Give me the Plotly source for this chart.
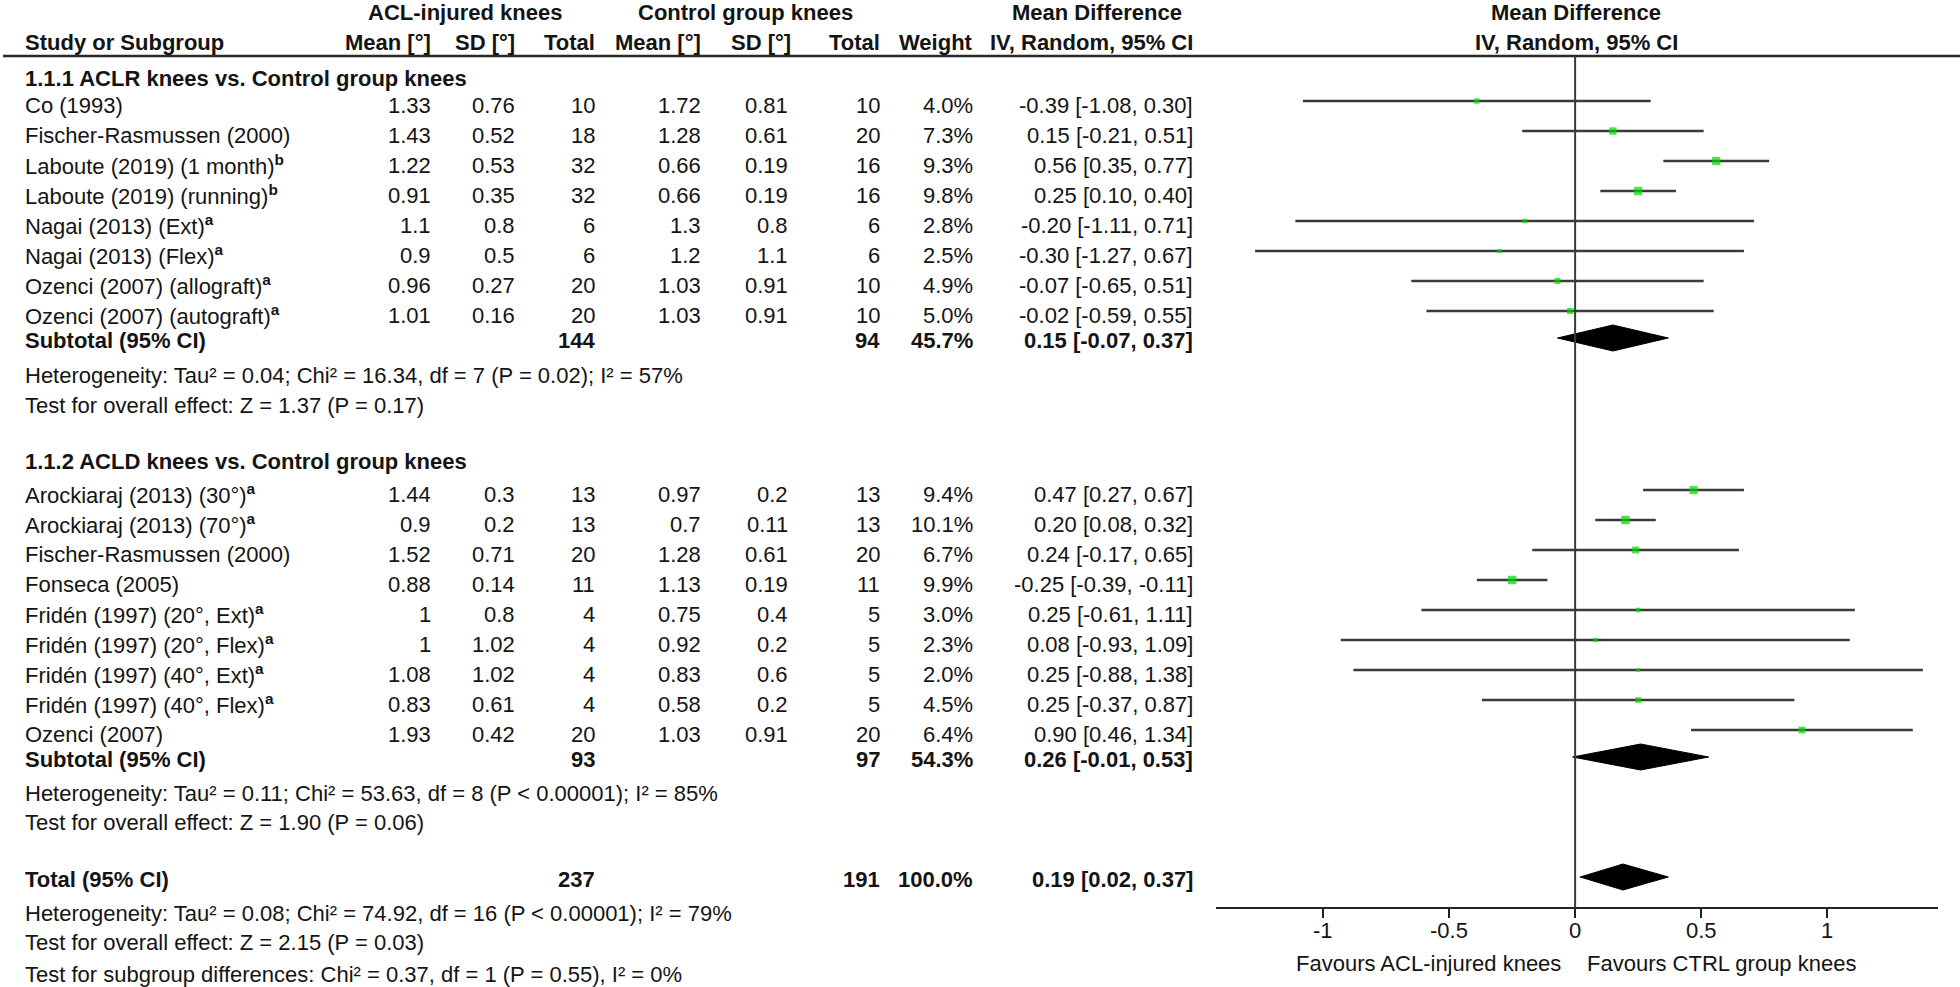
import plotly.graph_objects as go

# ---------------- data ----------------
studies1 = ["Co (1993)", "Fischer-Rasmussen (2000)", "Laboute (2019) (1 month)<sup><b>b</b></sup>",
            "Laboute (2019) (running)<sup><b>b</b></sup>", "Nagai (2013) (Ext)<sup><b>a</b></sup>",
            "Nagai (2013) (Flex)<sup><b>a</b></sup>", "Ozenci (2007) (allograft)<sup><b>a</b></sup>",
            "Ozenci (2007) (autograft)<sup><b>a</b></sup>"]
acl_mean1 = ["1.33", "1.43", "1.22", "0.91", "1.1", "0.9", "0.96", "1.01"]
acl_sd1 = ["0.76", "0.52", "0.53", "0.35", "0.8", "0.5", "0.27", "0.16"]
acl_n1 = [10, 18, 32, 32, 6, 6, 20, 20]
ctl_mean1 = ["1.72", "1.28", "0.66", "0.66", "1.3", "1.2", "1.03", "1.03"]
ctl_sd1 = ["0.81", "0.61", "0.19", "0.19", "0.8", "1.1", "0.91", "0.91"]
ctl_n1 = [10, 20, 16, 16, 6, 6, 10, 10]
weight1 = [4.0, 7.3, 9.3, 9.8, 2.8, 2.5, 4.9, 5.0]
md1 = [-0.39, 0.15, 0.56, 0.25, -0.20, -0.30, -0.07, -0.02]
lo1 = [-1.08, -0.21, 0.35, 0.10, -1.11, -1.27, -0.65, -0.59]
hi1 = [0.30, 0.51, 0.77, 0.40, 0.71, 0.67, 0.51, 0.55]
sub1_md, sub1_lo, sub1_hi = 0.15, -0.07, 0.37
sub1_n_acl, sub1_n_ctl, sub1_w = 144, 94, 45.7

studies2 = ["Arockiaraj (2013) (30°)<sup><b>a</b></sup>", "Arockiaraj (2013) (70°)<sup><b>a</b></sup>",
            "Fischer-Rasmussen (2000)", "Fonseca (2005)", "Fridén (1997) (20°, Ext)<sup><b>a</b></sup>",
            "Fridén (1997) (20°, Flex)<sup><b>a</b></sup>", "Fridén (1997) (40°, Ext)<sup><b>a</b></sup>",
            "Fridén (1997) (40°, Flex)<sup><b>a</b></sup>", "Ozenci (2007)"]
acl_mean2 = ["1.44", "0.9", "1.52", "0.88", "1", "1", "1.08", "0.83", "1.93"]
acl_sd2 = ["0.3", "0.2", "0.71", "0.14", "0.8", "1.02", "1.02", "0.61", "0.42"]
acl_n2 = [13, 13, 20, 11, 4, 4, 4, 4, 20]
ctl_mean2 = ["0.97", "0.7", "1.28", "1.13", "0.75", "0.92", "0.83", "0.58", "1.03"]
ctl_sd2 = ["0.2", "0.11", "0.61", "0.19", "0.4", "0.2", "0.6", "0.2", "0.91"]
ctl_n2 = [13, 13, 20, 11, 5, 5, 5, 5, 20]
weight2 = [9.4, 10.1, 6.7, 9.9, 3.0, 2.3, 2.0, 4.5, 6.4]
md2 = [0.47, 0.20, 0.24, -0.25, 0.25, 0.08, 0.25, 0.25, 0.90]
lo2 = [0.27, 0.08, -0.17, -0.39, -0.61, -0.93, -0.88, -0.37, 0.46]
hi2 = [0.67, 0.32, 0.65, -0.11, 1.11, 1.09, 1.38, 0.87, 1.34]
sub2_md, sub2_lo, sub2_hi = 0.26, -0.01, 0.53
sub2_n_acl, sub2_n_ctl, sub2_w = 93, 97, 54.3

tot_md, tot_lo, tot_hi = 0.19, 0.02, 0.37
tot_n_acl, tot_n_ctl, tot_w = 237, 191, 100.0

section_titles = ["1.1.1 ACLR knees vs. Control group knees", "1.1.2 ACLD knees vs. Control group knees"]
het1 = "Heterogeneity: Tau² = 0.04; Chi² = 16.34, df = 7 (P = 0.02); I² = 57%"
eff1 = "Test for overall effect: Z = 1.37 (P = 0.17)"
het2 = "Heterogeneity: Tau² = 0.11; Chi² = 53.63, df = 8 (P < 0.00001); I² = 85%"
eff2 = "Test for overall effect: Z = 1.90 (P = 0.06)"
het_tot = "Heterogeneity: Tau² = 0.08; Chi² = 74.92, df = 16 (P < 0.00001); I² = 79%"
eff_tot = "Test for overall effect: Z = 2.15 (P = 0.03)"
subgrp = "Test for subgroup differences: Chi² = 0.37, df = 1 (P = 0.55), I² = 0%"

tick_vals = [-1, -0.5, 0, 0.5, 1]
tick_text = ["-1", "-0.5", "0", "0.5", "1"]
favours_left = "Favours ACL-injured knees"
favours_right = "Favours CTRL group knees"

# ---------------- layout constants (pixels) ----------------
W, H = 1960, 987
FONT = "Liberation Sans, Arial, sans-serif"
FS = 22
TXT = "#141414"
LINEC = "#3a3a3a"
GREEN = "#00dc00"

X_LABEL = 23
X_ACL_MEAN, X_ACL_SD, X_ACL_N = 433, 517, 597
X_CTL_MEAN, X_CTL_SD, X_CTL_N = 703, 790, 882
X_W, X_CI = 975, 1195
AXIS_Y = 908
HEADER_LINE_Y = 56
TICKLABEL_Y = 930

y_head1, y_head2 = 12, 42
y_sec1 = 78
y_rows1 = [105 + 30 * i for i in range(len(studies1))]
y_sub1, y_het1, y_eff1 = 340, 375, 405
y_sec2 = 461
y_rows2 = [494 + 30 * i for i in range(len(studies2))]
y_sub2, y_het2, y_eff2 = 759, 793, 822
y_tot, y_het_tot, y_eff_tot, y_subgrp = 879, 913, 942, 974
CI_OFF = 4
DIA_OFF = 2
DIA_H = 13

fig = go.Figure()
ann = []


def txt(x, y, s, anchor="left", bold=False, size=FS):
    ann.append(dict(x=x / W, y=y, xref="paper", yref="y", text=("<b>%s</b>" % s) if bold else s,
                    showarrow=False, xanchor=anchor, yanchor="middle",
                    font=dict(family=FONT, size=size, color=TXT)))


# headers
txt(465, y_head1, "ACL-injured knees", "center", True)
txt(745, y_head1, "Control group knees", "center", True)
txt(1097, y_head1, "Mean Difference", "center", True)
txt(1576, y_head1, "Mean Difference", "center", True)
txt(X_LABEL, y_head2, "Study or Subgroup", "left", True)
for xx, s in [(X_ACL_MEAN, "Mean [°]"), (X_ACL_SD, "SD [°]"), (X_ACL_N, "Total"),
              (X_CTL_MEAN, "Mean [°]"), (X_CTL_SD + 3, "SD [°]"), (X_CTL_N, "Total"),
              (X_W, "Weight"), (X_CI, "IV, Random, 95% CI")]:
    txt(xx, y_head2, s, "right", True)
txt(1576, y_head2, "IV, Random, 95% CI", "center", True)


def study_rows(names, am, asd, an, cm, csd, cn, w, md, lo, hi, ys):
    for i in range(len(names)):
        y = ys[i]
        txt(X_LABEL, y, names[i])
        txt(X_ACL_MEAN, y, am[i], "right")
        txt(X_ACL_SD, y, asd[i], "right")
        txt(X_ACL_N, y, str(an[i]), "right")
        txt(X_CTL_MEAN, y, cm[i], "right")
        txt(X_CTL_SD, y, csd[i], "right")
        txt(X_CTL_N, y, str(cn[i]), "right")
        txt(X_W, y, "%.1f%%" % w[i], "right")
        txt(X_CI, y, "%.2f [%.2f, %.2f]" % (md[i], lo[i], hi[i]), "right")


def summary_row(label, y, n1, n2, w, m, l, h):
    txt(X_LABEL, y, label, "left", True)
    txt(X_ACL_N, y, str(n1), "right", True)
    txt(X_CTL_N, y, str(n2), "right", True)
    txt(X_W, y, "%.1f%%" % w, "right", True)
    txt(X_CI, y, "%.2f [%.2f, %.2f]" % (m, l, h), "right", True)


txt(X_LABEL, y_sec1, section_titles[0], "left", True)
study_rows(studies1, acl_mean1, acl_sd1, acl_n1, ctl_mean1, ctl_sd1, ctl_n1, weight1, md1, lo1, hi1, y_rows1)
summary_row("Subtotal (95% CI)", y_sub1, sub1_n_acl, sub1_n_ctl, sub1_w, sub1_md, sub1_lo, sub1_hi)
txt(X_LABEL, y_het1, het1)
txt(X_LABEL, y_eff1, eff1)

txt(X_LABEL, y_sec2, section_titles[1], "left", True)
study_rows(studies2, acl_mean2, acl_sd2, acl_n2, ctl_mean2, ctl_sd2, ctl_n2, weight2, md2, lo2, hi2, y_rows2)
summary_row("Subtotal (95% CI)", y_sub2, sub2_n_acl, sub2_n_ctl, sub2_w, sub2_md, sub2_lo, sub2_hi)
txt(X_LABEL, y_het2, het2)
txt(X_LABEL, y_eff2, eff2)

summary_row("Total (95% CI)", y_tot, tot_n_acl, tot_n_ctl, tot_w, tot_md, tot_lo, tot_hi)
txt(X_LABEL, y_het_tot, het_tot)
txt(X_LABEL, y_eff_tot, eff_tot)
txt(X_LABEL, y_subgrp, subgrp)

txt(1563, 963, favours_left, "right")
txt(1585, 963, favours_right, "left")

# tick labels placed on the forest axis scale
for v, s in zip(tick_vals, tick_text):
    ann.append(dict(x=v, y=TICKLABEL_Y, xref="x", yref="y", text=s, showarrow=False,
                    xanchor="center", yanchor="middle", font=dict(family=FONT, size=FS, color=TXT)))

# ---------------- forest marks ----------------
all_lo = lo1 + lo2
all_hi = hi1 + hi2
all_md = md1 + md2
all_w = weight1 + weight2
all_y = [y - CI_OFF for y in y_rows1 + y_rows2]

lx, ly = [], []
for l, h, y in zip(all_lo, all_hi, all_y):
    lx += [l, h, None]
    ly += [y, y, None]
fig.add_trace(go.Scatter(x=lx, y=ly, mode="lines", line=dict(color=LINEC, width=2.5),
                         hoverinfo="skip", showlegend=False))
fig.add_trace(go.Scatter(x=all_md, y=all_y, mode="markers",
                         marker=dict(symbol="square", color=GREEN, size=[2.7 * w ** 0.5 for w in all_w],
                                     line=dict(width=0)),
                         showlegend=False))

for m, l, h, yc in [(sub1_md, sub1_lo, sub1_hi, y_sub1 - DIA_OFF),
                    (sub2_md, sub2_lo, sub2_hi, y_sub2 - DIA_OFF),
                    (tot_md, tot_lo, tot_hi, y_tot - DIA_OFF)]:
    fig.add_trace(go.Scatter(x=[l, m, h, m, l], y=[yc, yc - DIA_H, yc, yc + DIA_H, yc],
                             mode="lines", fill="toself", fillcolor="black",
                             line=dict(color="black", width=1), showlegend=False, hoverinfo="skip"))

shapes = [
    dict(type="line", xref="paper", yref="y", x0=3 / W, x1=1.0, y0=HEADER_LINE_Y, y1=HEADER_LINE_Y,
         line=dict(color="#2a2a2a", width=2.5)),
    dict(type="line", xref="x", yref="y", x0=0, x1=0, y0=HEADER_LINE_Y, y1=AXIS_Y,
         line=dict(color=LINEC, width=2)),
]

fig.update_layout(
    width=W, height=H, margin=dict(l=0, r=0, t=0, b=0),
    paper_bgcolor="white", plot_bgcolor="rgba(0,0,0,0)",
    annotations=ann, shapes=shapes,
    xaxis=dict(domain=[1216 / W, 1938 / W], range=[-1.425, 1.44], anchor="free",
               position=(H - AXIS_Y) / H, showgrid=False, zeroline=False,
               showline=True, linecolor="#222", linewidth=2,
               ticks="outside", ticklen=9, tickwidth=2, tickcolor="#222",
               tickvals=tick_vals, showticklabels=False),
    yaxis=dict(domain=[0, 1], range=[H, 0], visible=False),
    showlegend=False,
)

fig.write_html("out.html", config={"displayModeBar": False},
               post_script="document.body.style.margin='0px';document.body.style.overflow='hidden';")
